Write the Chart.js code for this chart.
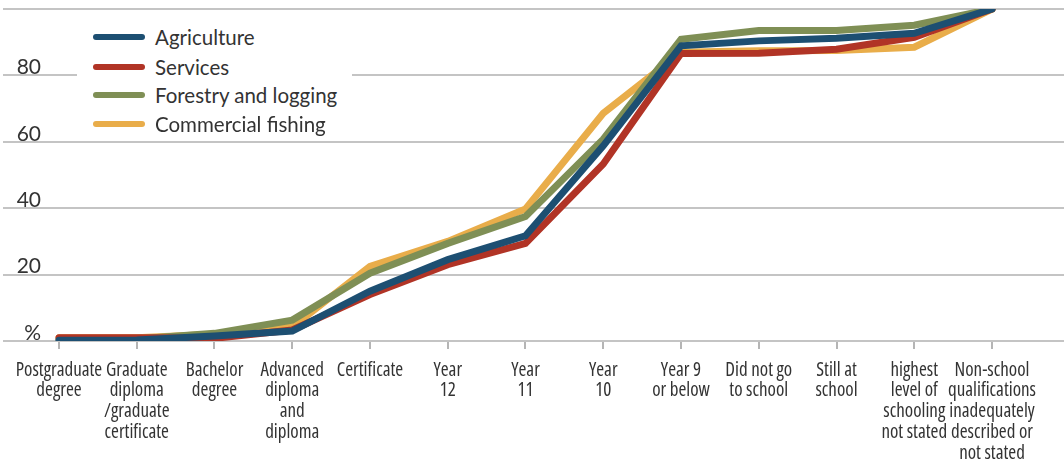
<!DOCTYPE html>
<html>
<head>
<meta charset="utf-8">
<script src="https://cdn.jsdelivr.net/npm/chart.js@4.4.1/dist/chart.umd.min.js"></script>
<style>
  html, body { margin: 0; padding: 0; background: #fff; }
  #wrap { position: relative; width: 1064px; height: 461px; }
  #legend {
    position: absolute; left: 77px; top: 20px; width: 275px; height: 115px;
    background: #fff; font-family: Lato, 'Open Sans', sans-serif; font-size: 20.5px; color: #333;
  }
  .leg-row { position: absolute; left: 0; height: 28px; width: 275px; }
  .leg-line { position: absolute; left: 16px; top: 11px; width: 52px; height: 6px; border-radius: 3px; }
  .leg-text { position: absolute; left: 78px; top: 0; line-height: 28px; white-space: nowrap; }
</style>
</head>
<body>
<div id="wrap">
  <canvas id="chart" width="1064" height="461"></canvas>
  <div id="legend"></div>
</div>
<script>
// --- DATA ---
const categories = [
  ['Postgraduate', 'degree'],
  ['Graduate', 'diploma', '/graduate', 'certificate'],
  ['Bachelor', 'degree'],
  ['Advanced', 'diploma', 'and', 'diploma'],
  'Certificate',
  ['Year', '12'],
  ['Year', '11'],
  ['Year', '10'],
  ['Year 9', 'or below'],
  ['Did not go', 'to school'],
  ['Still at', 'school'],
  ['highest', 'level of', 'schooling', 'not stated'],
  ['Non-school', 'qualifications', 'inadequately', 'described or', 'not stated']
];
const seriesNames = ['Agriculture', 'Services', 'Forestry and logging', 'Commercial fishing'];
const agriculture = [0.2, 0.3, 1.5, 3, 15, 24.5, 31.7, 58.8, 88.9, 90.4, 91.2, 92.7, 100];
const services    = [1, 1, 0.8, 3.3, 14, 23, 29.4, 53.3, 86.6, 86.7, 87.9, 91.5, 100];
const forestry    = [0.5, 0.6, 2.3, 6.3, 20.4, 29.4, 37.5, 60.8, 90.9, 93.5, 93.5, 95.1, 100];
const fishing     = [1, 1, 2, 4.2, 22.5, 30, 39.8, 68.6, 87, 87.4, 87.5, 88.5, 100];
const yTicks = [0, 20, 40, 60, 80, 100];

const colors = ['#1d4f72', '#b13426', '#7f8f55', '#e9ad4a'];
const allSeries = [agriculture, services, forestry, fishing];

// --- HTML LEGEND ---
const legendEl = document.getElementById('legend');
const rowTops = [3, 33, 61, 90];
seriesNames.forEach((name, i) => {
  legendEl.innerHTML += `
    <div class="leg-row" style="top:${rowTops[i]}px">
      <div class="leg-line" style="background:${colors[i]}"></div>
      <div class="leg-text">${name}</div>
    </div>`;
});

// --- CHART ---
const ctx = document.getElementById('chart').getContext('2d');
new Chart(ctx, {
  type: 'line',
  data: {
    datasets: allSeries.map((vals, i) => ({
      label: seriesNames[i],
      data: vals.map((v, j) => ({ x: j, y: v })),
      borderColor: colors[i],
      backgroundColor: colors[i],
      borderWidth: 7,
      borderCapStyle: 'round',
      borderJoinStyle: 'miter',
      pointRadius: 0,
      tension: 0,
      fill: false
    }))
  },
  options: {
    responsive: false,
    devicePixelRatio: 1,
    animation: false,
    layout: { padding: { left: 3, top: 9, right: 0, bottom: 0 } },
    plugins: { legend: { display: false }, tooltip: { enabled: false } },
    scales: {
      x: {
        type: 'linear',
        min: -0.18,
        max: 12.926,
        afterFit: s => { s.height = 120; s.paddingLeft = 0; s.paddingRight = 0; },
        border: { display: false },
        grid: { drawOnChartArea: false, drawTicks: true, tickLength: 8, color: '#b5b5b5', lineWidth: 2 },
        ticks: {
          stepSize: 1,
          includeBounds: false,
          autoSkip: false,
          maxRotation: 0,
          padding: 11,
          color: '#333',
          // "condensed" goes in the weight slot of the canvas font string
          font: { family: "'Open Sans', sans-serif", weight: 'condensed', size: 19, lineHeight: 1.09 },
          callback: v => categories[v]
        }
      },
      y: {
        min: 0,
        max: 100,
        // axis box 42px wide; long tick marks carry the gridlines to the left edge
        afterFit: s => { s.width = 42; s.paddingTop = 0; s.paddingBottom = 0; },
        afterBuildTicks: s => { s.ticks = yTicks.map(v => ({ value: v })); },
        border: { display: false },
        grid: { drawTicks: true, tickLength: 42, color: '#c4c4c4', lineWidth: 2 },
        ticks: {
          crossAlign: 'near',
          padding: -38,
          labelOffset: -8,
          color: '#333',
          font: { family: "Lato, 'Open Sans', sans-serif", size: 21 },
          callback: v => v === 0 ? '%' : (v === 100 ? '' : v)
        }
      }
    }
  }
});
</script>
</body>
</html>
